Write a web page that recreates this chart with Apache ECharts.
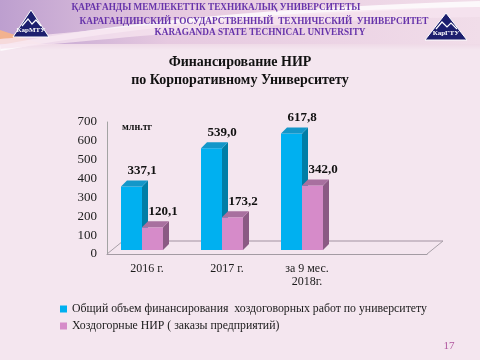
<!DOCTYPE html>
<html>
<head>
<meta charset="utf-8">
<script src="https://cdn.jsdelivr.net/npm/echarts@6/dist/echarts.min.js"></script>
<style>
html,body{margin:0;padding:0;background:#f4e6ef;}
#main{width:480px;height:360px;}
</style>
</head>
<body>
<div id="main"></div>
<script>
// ---- data ----
const categories = ['2016 г.', '2017 г.', 'за 9 мес.\n2018г.'];
const totalFunding = [337.1, 539.0, 617.8];      // Общий объем финансирования хоздоговорных работ
const contractResearch = [120.1, 173.2, 342.0];  // Хоздогорные НИР (заказы предприятий)
const seriesNames = [
  'Общий объем финансирования  хоздоговорных работ по университету',
  'Хоздогорные НИР ( заказы предприятий)'
];
const yMin = 0, yMax = 700, yInterval = 100;

// ---- layout / style ----
const G = {left: 107, right: 53, top: 122, bottom: 106};
const W = 480, H = 360;
const frontColors = ['#00b0f0', '#d68bc9'];
const sideColors = ['#007ea6', '#8b5a84'];
const topColors = ['#1397c9', '#a8709f'];
const serif = '"Liberation Serif", "DejaVu Serif", serif';

const chart = echarts.init(document.getElementById('main'));

function fmt(v) { return v.toFixed(1).replace('.', ','); }

function makeRender(s) {
  return function (params, api) {
    const idx = api.value(0), val = api.value(1);
    const base = api.coord([idx, 0]);
    const top = api.coord([idx, val]);
    const band = api.size([1, 0])[0];
    const bw = band * 0.2625;
    const x0 = base[0] + (s === 0 ? -0.325 : -0.0625) * band;
    const by = base[1] - 4, ty = top[1] - 4;
    const dx = 6, dy = 6;
    return {
      type: 'group',
      children: [
        {type: 'rect', shape: {x: x0, y: ty, width: bw, height: by - ty},
         style: {fill: frontColors[s]}},
        {type: 'polygon', shape: {points: [[x0 + bw, by], [x0 + bw + dx, by - dy], [x0 + bw + dx, ty - dy], [x0 + bw, ty]]},
         style: {fill: sideColors[s]}},
        {type: 'polygon', shape: {points: [[x0, ty], [x0 + dx, ty - dy], [x0 + bw + dx, ty - dy], [x0 + bw, ty]]},
         style: {fill: topColors[s]}},
        {type: 'text', x: x0 + bw, y: ty - 16,
         style: {text: fmt(val), fill: '#111', font: 'bold 13px ' + serif, align: 'center', verticalAlign: 'middle'}}
      ]
    };
  };
}

// floor geometry derived from grid
const fx0 = G.left, fx1 = W - G.right, fy = H - G.bottom;
const ddx = 16, ddy = 13;

function headerText(x, y, text) {
  return {type: 'text', x: x, y: y, scaleX: 0.84,
    style: {text: text, fill: '#6633aa', font: 'bold 11px ' + serif, align: 'center', verticalAlign: 'middle'}};
}

const option = {
  backgroundColor: '#f4e6ef',
  animation: false,
  title: {
    text: 'Финансирование НИР\nпо Корпоративному Университету',
    left: 'center', top: 48,
    textStyle: {fontFamily: serif, fontSize: 14, fontWeight: 'bold', color: '#111', lineHeight: 18}
  },
  legend: {
    orient: 'vertical', left: 55, top: 297, itemWidth: 7, itemHeight: 7, itemGap: 3,
    data: seriesNames.map(n => ({name: n, icon: 'rect'})),
    textStyle: {fontFamily: serif, fontSize: 11.8, color: '#1a1a1a', lineHeight: 14}
  },
  grid: {left: G.left, right: G.right, top: G.top, bottom: G.bottom},
  xAxis: {
    type: 'category',
    data: categories.concat(['']),
    axisLine: {show: true, lineStyle: {color: '#a39ba3', width: 1}},
    axisTick: {show: false},
    axisLabel: {fontFamily: serif, fontSize: 12, color: '#1a1a1a', margin: 8, lineHeight: 13, interval: 0}
  },
  yAxis: {
    type: 'value', min: yMin, max: yMax, interval: yInterval,
    axisLine: {show: true, lineStyle: {color: '#a3a3a3'}},
    axisTick: {show: false},
    splitLine: {show: false},
    axisLabel: {fontFamily: serif, fontSize: 13, color: '#1a1a1a', margin: 10}
  },
  series: [
    {name: seriesNames[0], type: 'custom', renderItem: makeRender(0),
     itemStyle: {color: frontColors[0]},
     data: totalFunding.map((v, i) => [i, v]), z: 3},
    {name: seriesNames[1], type: 'custom', renderItem: makeRender(1),
     itemStyle: {color: frontColors[1]},
     data: contractResearch.map((v, i) => [i, v]), z: 4}
  ],
  graphic: [
    // header background
    {type: 'rect', z: -10, shape: {x: 0, y: 0, width: 480, height: 44},
     style: {fill: new echarts.graphic.LinearGradient(0, 0, 1, 0, [
       {offset: 0, color: '#bd9fcf'}, {offset: 0.35, color: '#e6c9e0'}, {offset: 1, color: '#f1dde9'}])}},
    {type: 'polygon', z: -9, shape: {points: [[0, 30], [0, 50], [60, 50]]},
     style: {fill: '#f2b28e'}},
    {type: 'bezierCurve', z: -8, shape: {x1: 0, y1: 48, x2: 480, y2: 4, cpx1: 150, cpy1: 20, cpx2: 300, cpy2: 10},
     style: {stroke: '#ffffff', lineWidth: 6, fill: null, opacity: 0.8}},
    {type: 'bezierCurve', z: -8, shape: {x1: 0, y1: 44, x2: 480, y2: 12, cpx1: 150, cpy1: 30, cpx2: 300, cpy2: 14},
     style: {stroke: '#f6e4ef', lineWidth: 10, fill: null, opacity: 0.8}},
    {type: 'rect', z: -9, shape: {x: 0, y: 44, width: 480, height: 6},
     style: {fill: new echarts.graphic.LinearGradient(0, 0, 0, 1, [
       {offset: 0, color: '#efdae7'}, {offset: 1, color: '#f4e6ef'}])}},
    // header texts
    headerText(216, 7, 'ҚАРАҒАНДЫ МЕМЛЕКЕТТІК ТЕХНИКАЛЫҚ УНИВЕРСИТЕТЫ'),
    headerText(254, 21, 'КАРАГАНДИНСКИЙ ГОСУДАРСТВЕННЫЙ  ТЕХНИЧЕСКИЙ  УНИВЕРСИТЕТ'),
    headerText(260, 32, 'KARAGANDA STATE TECHNICAL UNIVERSITY'),
    // left logo
    {type: 'polygon', shape: {points: [[31, 10], [13, 37], [49, 37]]}, style: {fill: '#1c1f6e', stroke: '#ffffff', lineWidth: 1}},
    {type: 'polyline', shape: {points: [[22, 26], [28, 19], [32, 24], [36, 20], [41, 26]]}, style: {stroke: '#ffffff', lineWidth: 1.2, fill: null}},
    {type: 'text', x: 31, y: 30, style: {text: 'КарМТУ', fill: '#ffffff', font: 'bold 7px ' + serif, align: 'center', verticalAlign: 'middle'}},
    // right logo
    {type: 'polygon', shape: {points: [[446, 13], [425, 40], [467, 40]]}, style: {fill: '#1c1f6e', stroke: '#ffffff', lineWidth: 1}},
    {type: 'polyline', shape: {points: [[436, 29], [442, 22], [447, 27], [451, 23], [457, 29]]}, style: {stroke: '#ffffff', lineWidth: 1.2, fill: null}},
    {type: 'text', x: 446, y: 33, style: {text: 'КарГТУ', fill: '#ffffff', font: 'bold 7px ' + serif, align: 'center', verticalAlign: 'middle'}},
    // unit label
    {type: 'text', x: 122, y: 127, style: {text: 'млн.тг', fill: '#111', font: 'bold 10px ' + serif, verticalAlign: 'middle'}},
    // 3D floor
    {type: 'line', z: 1, shape: {x1: fx0 + ddx, y1: fy - ddy, x2: fx1 + ddx, y2: fy - ddy}, style: {stroke: '#cbbcc8', lineWidth: 2}},
    {type: 'line', z: 1, shape: {x1: fx0, y1: fy, x2: fx0 + ddx, y2: fy - ddy}, style: {stroke: '#a8a0a8', lineWidth: 1}},
    {type: 'line', z: 1, shape: {x1: fx1, y1: fy, x2: fx1 + ddx, y2: fy - ddy}, style: {stroke: '#a8a0a8', lineWidth: 1}},
    // page number
    {type: 'text', x: 449, y: 346, style: {text: '17', fill: '#b0569e', font: '11px ' + serif, align: 'center', verticalAlign: 'middle'}}
  ]
};
chart.setOption(option);
</script>
</body>
</html>
